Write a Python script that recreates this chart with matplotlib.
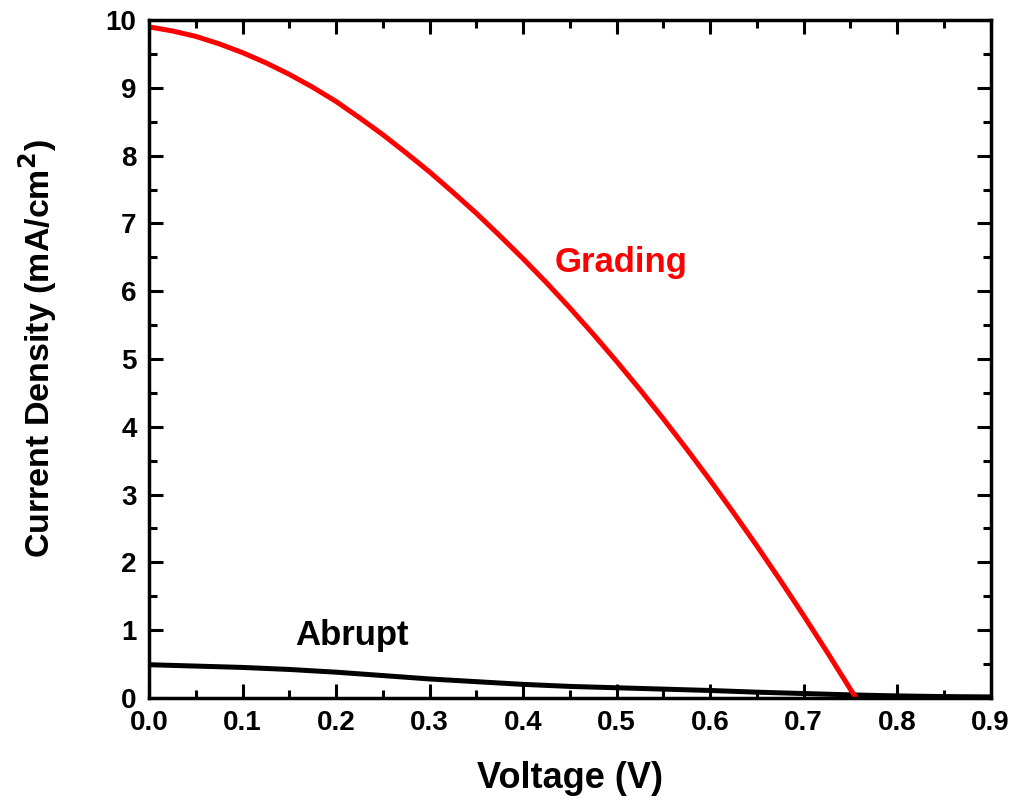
import matplotlib
matplotlib.use("Agg")
import matplotlib.pyplot as plt
from matplotlib.ticker import MultipleLocator

plt.rcParams['font.family'] = ['Liberation Sans', 'DejaVu Sans']
plt.rcParams['font.weight'] = 'bold'

# J-V curves
v_grading = [0.0, 0.025, 0.05, 0.075, 0.1, 0.125, 0.15, 0.175, 0.2, 0.225,
             0.25, 0.275, 0.3, 0.325, 0.35, 0.375, 0.4, 0.425, 0.45, 0.475,
             0.5, 0.525, 0.55, 0.575, 0.6, 0.625, 0.65, 0.675, 0.7, 0.725,
             0.75, 0.756]
j_grading = [9.90, 9.84, 9.76, 9.65, 9.52, 9.37, 9.20, 9.01, 8.80, 8.56,
             8.31, 8.04, 7.76, 7.46, 7.15, 6.82, 6.48, 6.126, 5.754, 5.367,
             4.965, 4.549, 4.117, 3.671, 3.21, 2.733, 2.242, 1.736, 1.215, 0.679,
             0.128, 0.0]

v_abrupt = [0.0, 0.05, 0.1, 0.15, 0.2, 0.25, 0.3, 0.35, 0.4, 0.45,
            0.5, 0.55, 0.6, 0.65, 0.7, 0.75, 0.8, 0.85, 0.9]
j_abrupt = [0.49, 0.47, 0.45, 0.42, 0.38, 0.33, 0.28, 0.24, 0.20, 0.17,
            0.15, 0.13, 0.11, 0.085, 0.065, 0.045, 0.03, 0.02, 0.015]

fig = plt.figure(figsize=(10.14, 8.05), dpi=100)
ax = fig.add_axes([0.147, 0.133, 0.83, 0.842])

ax.plot(v_abrupt, j_abrupt, color='black', lw=3.6, solid_joinstyle='round')
ax.plot(v_grading, j_grading, color='#ff0000', lw=3.6, solid_joinstyle='round')

ax.text(0.434, 6.28, 'Grading', color='#ff0000', fontsize=25, fontweight='bold', va='baseline')
ax.text(0.156, 0.78, 'Abrupt', color='black', fontsize=25, fontweight='bold', va='baseline')

ax.set_xlim(0, 0.9)
ax.set_ylim(0, 10)
ax.xaxis.set_minor_locator(MultipleLocator(0.05))
ax.yaxis.set_major_locator(MultipleLocator(1))
ax.yaxis.set_minor_locator(MultipleLocator(0.5))
ax.set_xticks([0.0, 0.1, 0.2, 0.3, 0.4, 0.5, 0.6, 0.7, 0.8, 0.9])
ax.set_xticklabels(['0.0', '0.1', '0.2', '0.3', '0.4', '0.5', '0.6', '0.7', '0.8', '0.9'])

ax.tick_params(which='both', direction='in', top=True, right=True, width=2.2, labelsize=20)
ax.tick_params(which='major', length=10, pad=9)
ax.tick_params(which='minor', length=6)
for s in ax.spines.values():
    s.set_linewidth(2.5)

ax.set_xlabel('Voltage (V)', fontsize=26, fontweight='bold', labelpad=18)
ax.set_ylabel('Current Density (mA/cm$^\\mathbf{2}$)', fontsize=24.5, fontweight='bold')
ax.yaxis.set_label_coords(-0.107, 0.516)

fig.savefig('out.png', dpi=100)
